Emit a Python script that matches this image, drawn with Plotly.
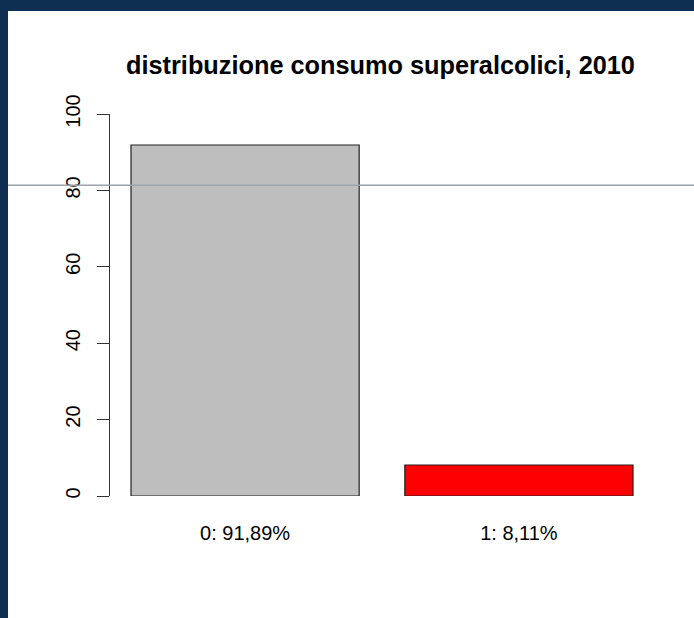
import plotly.graph_objects as go

# ---- data ----
categories = ["0: 91,89%", "1: 8,11%"]
values = [91.89, 8.11]
bar_colors = ["#bebebe", "#ff0000"]
bar_centers = [0.7, 1.9]
y_ticks = [0, 20, 40, 60, 80, 100]
title_text = "distribuzione consumo superalcolici, 2010"

# ---- geometry ----
W, H = 694, 618
L, R, T, B = 110, 40, 114, 122
pw = W - L - R
ph = H - T - B


def px_x(p):
    return (p - L) / pw


def px_y(p):
    return (H - B - p) / ph


FONT = "Liberation Sans, Arial, sans-serif"
NAVY = "#0e2e52"

fig = go.Figure(
    go.Bar(
        x=bar_centers,
        y=values,
        width=1.0,
        marker=dict(color=bar_colors, line=dict(color="#222222", width=1.2)),
        hoverinfo="skip",
    )
)

fig.update_layout(
    width=W,
    height=H,
    margin=dict(l=L, r=R, t=T, b=B, pad=0),
    paper_bgcolor=NAVY,
    plot_bgcolor="white",
    showlegend=False,
    title=dict(
        text="<b>" + title_text + "</b>",
        x=px_x(380.5),
        xref="paper",
        xanchor="center",
        y=1 - 65 / H,
        yref="container",
        yanchor="middle",
        font=dict(family=FONT, size=25.3, color="black"),
    ),
    xaxis=dict(
        range=[0.108, 2.492],
        tickvals=bar_centers,
        ticktext=categories,
        showgrid=False,
        zeroline=False,
        showline=False,
        ticks="",
        ticklabelstandoff=23,
        tickfont=dict(family=FONT, size=20, color="black"),
    ),
    yaxis=dict(
        range=[0, 100],
        tickvals=y_ticks,
        ticktext=[str(v) for v in y_ticks],
        showgrid=False,
        zeroline=False,
        showline=True,
        linecolor="#333333",
        linewidth=1.3,
        ticks="outside",
        ticklen=12,
        tickwidth=1.3,
        tickcolor="#333333",
        tickangle=-90,
        ticklabelstandoff=9,
        tickfont=dict(family=FONT, size=20, color="black"),
    ),
    shapes=[
        dict(
            type="rect", xref="paper", yref="paper",
            x0=px_x(8), x1=px_x(700), y0=px_y(11), y1=px_y(620),
            fillcolor="white", line=dict(width=0), layer="below",
        ),
        dict(
            type="line", xref="paper", yref="paper",
            x0=px_x(8), x1=px_x(700), y0=px_y(185.3), y1=px_y(185.3),
            line=dict(color="#9ea3aa", width=1.5), layer="above",
        ),
    ],
)

fig.write_html(
    "out.html",
    config={"displayModeBar": False},
    post_script="document.body.style.margin='0';document.body.style.background='%s';" % NAVY,
)
